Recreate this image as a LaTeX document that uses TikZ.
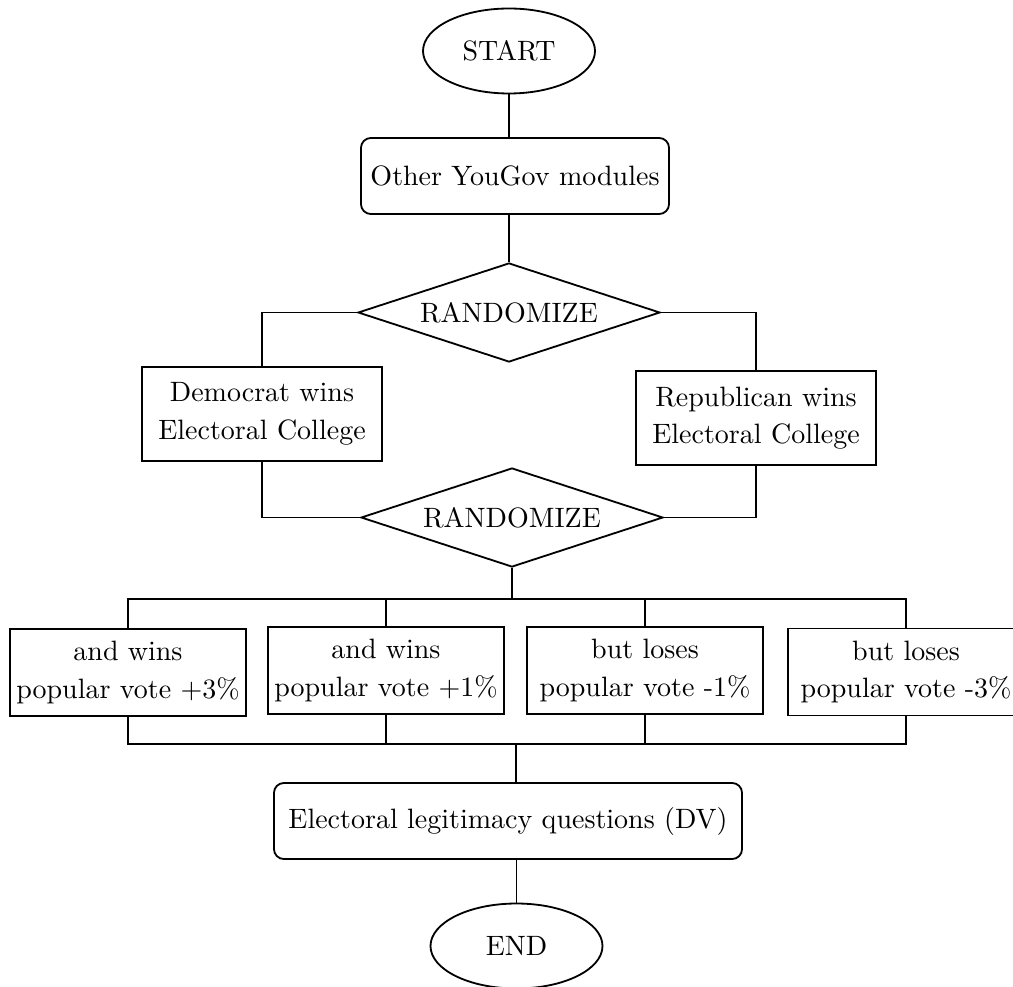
\documentclass[tikz,border=0pt]{standalone}
\usetikzlibrary{shapes.geometric}
\newcommand\pxu{0.3571pt}
\begin{document}
\begin{tikzpicture}[x=0.3571pt,y=-0.3571pt,line width=0.65pt,
  every node/.style={inner sep=0pt,align=center,font=\fontsize{10}{13.4}\selectfont},
  termnode/.style={draw,ellipse,minimum width=172*\pxu,minimum height=85*\pxu},
  rbox/.style={draw,rectangle,rounded corners=3.5pt,minimum height=76*\pxu},
  sbox/.style={draw,rectangle,minimum width=240*\pxu,minimum height=94*\pxu},
  vbox/.style={draw,rectangle,minimum width=236*\pxu,minimum height=87*\pxu},
  decnode/.style={draw,diamond,aspect=3.05,minimum width=302*\pxu,minimum height=99*\pxu}]
\useasboundingbox (0,0) rectangle (1013,987);

\node[termnode] (start) at (509,51) {START};
\node[rbox,minimum width=308*\pxu] (yg) at (515,176) {Other YouGov modules};
\node[decnode] (d1) at (509,312.5) {RANDOMIZE};
\node[sbox] (dem) at (262,414) {Democrat wins\\Electoral College};
\node[sbox] (rep) at (756,418) {Republican wins\\Electoral College};
\node[decnode] (d2) at (512,517.5) {RANDOMIZE};
\node[vbox] (b1) at (128,672.5) {and wins\\popular vote +3\%};
\node[vbox] (b2) at (386,670.5) {and wins\\popular vote +1\%};
\node[vbox] (b3) at (645,670.5) {but loses\\popular vote -1\%};
\node[vbox] (b4) at (906,672) {but loses\\popular vote -3\%};
\node[rbox,minimum width=468*\pxu] (dv) at (508,821) {Electoral legitimacy questions (DV)};
\node[termnode] (en) at (516.5,946) {END};

\coordinate (bt) at (512,599);
\coordinate (bb) at (516,744);

\draw (start.south) -- (start.south |- yg.north);
\draw (d1.north |- yg.south) -- (d1.north);
\draw (d1.west) -| (dem.north);
\draw (d1.east) -| (rep.north);
\draw (dem.south) |- (d2.west);
\draw (rep.south) |- (d2.east);
\draw (d2.south) -- (bt);
\draw (b1.north) |- (bt) -| (b4.north);
\draw (b2.north) -- (b2.north |- bt);
\draw (b3.north) -- (b3.north |- bt);
\draw (b1.south) |- (bb) -| (b4.south);
\draw (b2.south) -- (b2.south |- bb);
\draw (b3.south) -- (b3.south |- bb);
\draw (bb) -- (bb |- dv.north);
\draw (dv.south -| en.north) -- (en.north);
\end{tikzpicture}
\end{document}
